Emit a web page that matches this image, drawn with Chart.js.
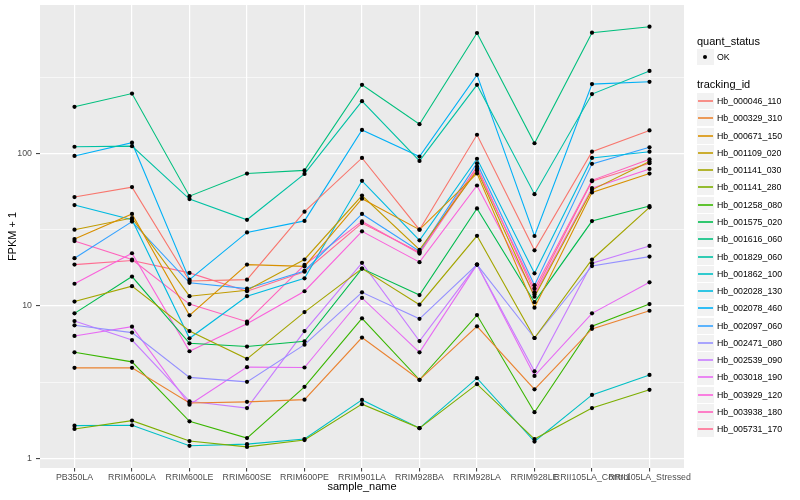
<!DOCTYPE html>
<html><head><meta charset="utf-8">
<script src="https://cdn.jsdelivr.net/npm/chart.js@4.4.1/dist/chart.umd.min.js"></script>
<style>
html,body{margin:0;padding:0;background:#fff;}
#wrap{position:relative;width:800px;height:500px;font-family:"Liberation Sans",Arial,Helvetica,sans-serif;}
#legend{position:absolute;left:0;top:0;width:800px;height:500px;pointer-events:none;}
.lt{position:absolute;left:697px;font-size:11px;line-height:14px;color:#000;white-space:nowrap;}
.key{position:absolute;left:697px;width:17px;height:16px;background:#F2F2F2;}
.kl{position:absolute;left:698px;width:15px;height:2px;opacity:0.8;}
.kp{position:absolute;left:703px;width:4px;height:4px;border-radius:2px;background:#000;}
.lab{position:absolute;left:717px;font-size:8.8px;line-height:12px;color:#000;white-space:nowrap;}
</style></head><body>
<div id="wrap"><canvas id="c" width="800" height="500"></canvas><div id="legend"></div></div>
<script>
const categories = ["PB350LA","RRIM600LA","RRIM600LE","RRIM600SE","RRIM600PE","RRIM901LA","RRIM928BA","RRIM928LA","RRIM928LE","RRII105LA_Control","RRII105LA_Stressed"];

const Hb_000046_110 = [51.9, 60.3, 14.6, 14.9, 41.6, 93.7, 31.7, 133, 23.2, 103, 142];
const Hb_000329_310 = [3.93, 3.93, 2.31, 2.35, 2.43, 6.21, 3.28, 7.36, 2.84, 7.08, 9.31];
const Hb_000671_150 = [27.5, 40.2, 8.69, 18.7, 18.2, 50.6, 31.7, 74.2, 9.75, 55.6, 74];
const Hb_001109_020 = [31.7, 37.8, 11.6, 12.7, 20.2, 53.1, 23.4, 77.4, 11.5, 57.9, 88.7];
const Hb_001141_030 = [10.7, 13.5, 6.85, 4.50, 9.12, 17.6, 10.2, 28.9, 6.17, 20.2, 44.4];
const Hb_001141_280 = [1.56, 1.77, 1.30, 1.19, 1.32, 2.27, 1.58, 3.07, 1.34, 2.14, 2.82];
const Hb_001258_080 = [4.97, 4.30, 1.75, 1.36, 2.95, 8.30, 3.28, 8.72, 2.01, 7.36, 10.3];
const Hb_001575_020 = [8.95, 15.6, 5.69, 5.42, 5.87, 17.6, 11.8, 43.7, 10.6, 36.1, 45.3];
const Hb_001616_060 = [203, 248, 52.6, 74, 77.6, 283, 156, 619, 117, 622, 681];
const Hb_001829_060 = [111, 112, 50.3, 36.8, 73.6, 221, 89.6, 283, 54.2, 246, 349];
const Hb_001862_100 = [1.64, 1.65, 1.21, 1.24, 1.34, 2.42, 1.58, 3.36, 1.29, 2.61, 3.53];
const Hb_002028_130 = [46, 36.8, 6.14, 11.6, 15.2, 66.3, 27, 92.6, 16.4, 93.7, 103];
const Hb_002078_460 = [96.6, 118, 14.9, 30.4, 36.2, 143, 95.6, 329, 28.8, 286, 296];
const Hb_002097_060 = [20.6, 35.8, 14.2, 13.0, 17.0, 40.2, 22.9, 86.5, 13.7, 85.7, 110];
const Hb_002471_080 = [7.47, 6.69, 3.40, 3.18, 5.58, 12.3, 8.24, 18.7, 6.17, 18.3, 21.1];
const Hb_002539_090 = [7.97, 5.98, 2.37, 2.14, 6.85, 19.2, 5.89, 18.7, 3.73, 19.1, 24.8];
const Hb_003018_190 = [6.36, 7.32, 2.25, 3.97, 3.95, 11.3, 4.97, 18.7, 3.48, 8.95, 14.3];
const Hb_003929_120 = [14.0, 22.2, 5.05, 7.66, 12.5, 30.9, 19.4, 61.8, 11.9, 59.4, 79.4];
const Hb_003938_180 = [26.7, 20.2, 10.3, 7.89, 18.6, 35.9, 22.1, 79.4, 13.0, 66.8, 91.9];
const Hb_005731_170 = [18.7, 19.9, 16.5, 12.5, 16.8, 35.0, 22.5, 82.2, 12.3, 66.0, 86.5];

const seriesNames = ["Hb_000046_110","Hb_000329_310","Hb_000671_150","Hb_001109_020","Hb_001141_030","Hb_001141_280","Hb_001258_080","Hb_001575_020","Hb_001616_060","Hb_001829_060","Hb_001862_100","Hb_002028_130","Hb_002078_460","Hb_002097_060","Hb_002471_080","Hb_002539_090","Hb_003018_190","Hb_003929_120","Hb_003938_180","Hb_005731_170"];
const seriesValues = [Hb_000046_110,Hb_000329_310,Hb_000671_150,Hb_001109_020,Hb_001141_030,Hb_001141_280,Hb_001258_080,Hb_001575_020,Hb_001616_060,Hb_001829_060,Hb_001862_100,Hb_002028_130,Hb_002078_460,Hb_002097_060,Hb_002471_080,Hb_002539_090,Hb_003018_190,Hb_003929_120,Hb_003938_180,Hb_005731_170];
const seriesColors = ["#F8766D","#EA8331","#D89000","#C09B00","#A3A500","#7CAE00","#39B600","#00BB4E","#00BF7D","#00C1A3","#00BFC4","#00BAE0","#00B0F6","#35A2FF","#9590FF","#C77CFF","#E76BF3","#FA62DB","#FF62BC","#FF6C91"];

const yMajorTicks = [1, 10, 100];
const yMinorTicks = [Math.sqrt(10), Math.sqrt(1000), Math.sqrt(100000)];
const quantStatus = ["OK"];

const FONT = '"Liberation Sans", Arial, Helvetica, sans-serif';
Chart.defaults.font.family = FONT;

const isMajor = v => yMajorTicks.some(m => Math.abs(m - v) < 1e-6);

const lineSets = seriesValues.map((vals, k) => ({
  type: 'line',
  label: seriesNames[k],
  data: vals.map((v, i) => ({x: i, y: v})),
  borderColor: seriesColors[k],
  backgroundColor: seriesColors[k],
  borderWidth: 1.1,
  pointRadius: 0,
  fill: false,
  tension: 0,
  order: 1
}));
const pointData = [];
seriesValues.forEach(vals => vals.forEach((v, i) => pointData.push({x: i, y: v})));
const pointSet = {
  type: 'line', label: 'points', data: pointData, showLine: false,
  pointRadius: 2.1, pointBorderWidth: 0, pointBackgroundColor: '#000', borderColor: '#000', order: 0
};

const panelBg = {
  id: 'panelBg',
  beforeDraw(chart) {
    const {ctx, chartArea: a} = chart;
    ctx.save();
    ctx.fillStyle = '#EBEBEB';
    ctx.fillRect(a.left, a.top, a.right - a.left, a.bottom - a.top);
    ctx.restore();
  }
};

new Chart(document.getElementById('c'), {
  type: 'line',
  data: {datasets: [...lineSets, pointSet]},
  plugins: [panelBg],
  options: {
    responsive: false,
    animation: false,
    events: [],
    layout: {padding: {left: 0, right: 116, top: 5, bottom: 0}},
    plugins: {legend: {display: false}, tooltip: {enabled: false}},
    scales: {
      x: {
        type: 'linear',
        min: -0.6,
        max: categories.length - 1 + 0.6,
        afterBuildTicks: s => { s.ticks = categories.map((_, i) => ({value: i})); },
        afterFit: s => { s.height = 32; s.paddingLeft = 0; s.paddingRight = 0; },
        ticks: {callback: v => categories[v], autoSkip: false, maxRotation: 0, minRotation: 0,
                color: '#4D4D4D', font: {size: 8.8}, padding: 1},
        grid: {color: '#FFFFFF', lineWidth: 1.2, tickColor: '#333333', tickLength: 3.5, tickWidth: 1},
        border: {display: false},
        title: {display: true, text: 'sample_name', color: '#000', font: {size: 11}, padding: {top: 0, bottom: 6}}
      },
      y: {
        type: 'logarithmic',
        min: 0.865,
        max: 945,
        afterBuildTicks: s => {
          s.ticks = [...yMajorTicks, ...yMinorTicks].sort((a, b) => a - b).map(v => ({value: v}));
        },
        afterFit: s => { s.width = 40; s.paddingTop = 0; s.paddingBottom = 0; },
        ticks: {callback: v => isMajor(v) ? String(Math.round(v)) : '', autoSkip: false,
                color: '#4D4D4D', font: {size: 8.8}, padding: 4},
        grid: {
          color: '#FFFFFF',
          lineWidth: c => (c.tick && isMajor(c.tick.value)) ? 1.2 : 0.6,
          tickColor: c => (c.tick && isMajor(c.tick.value)) ? '#333333' : 'rgba(0,0,0,0)',
          tickLength: 4, tickWidth: 1
        },
        border: {display: false},
        title: {display: true, text: 'FPKM + 1', color: '#000', font: {size: 11}, padding: {top: 6, bottom: 0}}
      }
    }
  }
});

// legend (HTML text)
const lg = document.getElementById('legend');
function add(cls, top, text, extra) {
  const d = document.createElement('div');
  d.className = cls;
  d.style.top = top + 'px';
  if (text) d.textContent = text;
  if (extra) Object.assign(d.style, extra);
  lg.appendChild(d);
  return d;
}
add('lt', 40.5 - 7, 'quant_status');
quantStatus.forEach((q, i) => {
  const cy = 57 + i * 17.28;
  add('key', Math.round(cy - 8));
  add('kp', Math.round(cy - 2));
  add('lab', cy - 6, q);
});
add('lt', 84 - 7, 'tracking_id');
seriesNames.forEach((n, i) => {
  const cy = 101 + i * 17.28;
  add('key', Math.round(cy - 8));
  add('kl', Math.round(cy - 1), '', {background: seriesColors[i]});
  add('lab', cy - 6, n);
});
</script>
</body></html>
